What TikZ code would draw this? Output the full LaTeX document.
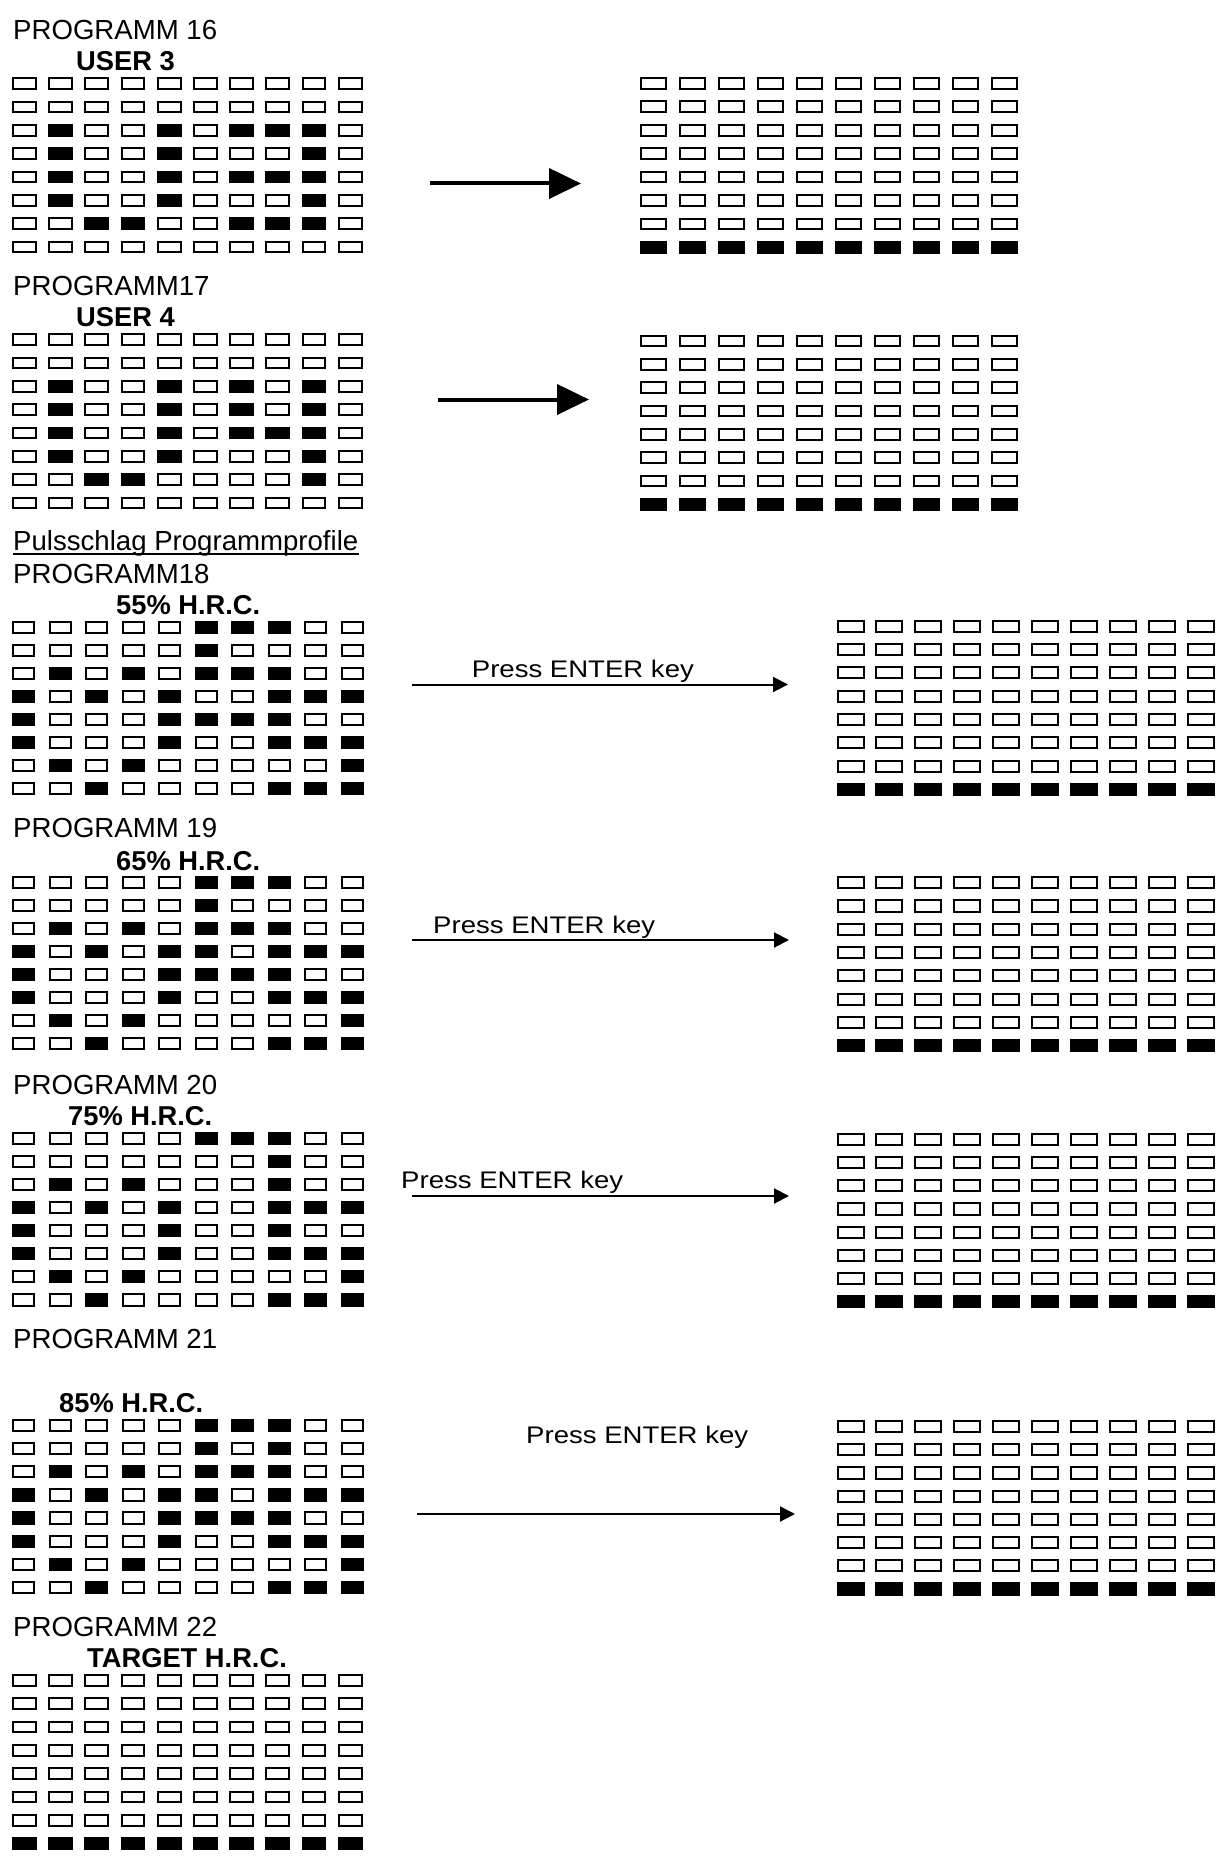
\documentclass[tikz,border=0pt]{standalone}
\usepackage{fontspec}
\setmainfont{Liberation Sans}
\usepackage{graphicx}
\usetikzlibrary{arrows.meta}
\newcommand{\ledgrid}[7]{%
  \foreach \rowlist [count=\r] in #7 {
    \foreach \v [count=\c] in \rowlist {
      \pgfmathsetmacro\xx{#1+(\c-1)*#3}
      \pgfmathsetmacro\yy{#2+(\r-1)*#4}
      \ifnum\v=1
        \fill[black] (\xx,\yy) rectangle ++(#5,#6);
      \else
        \draw[cellline] (\xx+1,\yy+1) rectangle ++(#5-2,#6-2);
      \fi
    }
  }%
}
\newcommand{\emptyrows}{{0,0,0,0,0,0,0,0,0,0},{0,0,0,0,0,0,0,0,0,0},{0,0,0,0,0,0,0,0,0,0},{0,0,0,0,0,0,0,0,0,0},{0,0,0,0,0,0,0,0,0,0},{0,0,0,0,0,0,0,0,0,0},{0,0,0,0,0,0,0,0,0,0},{1,1,1,1,1,1,1,1,1,1}}
\newcommand{\patA}{{0,0,0,0,0,0,0,0,0,0},{0,0,0,0,0,0,0,0,0,0},{0,1,0,0,1,0,1,1,1,0},{0,1,0,0,1,0,0,0,1,0},{0,1,0,0,1,0,1,1,1,0},{0,1,0,0,1,0,0,0,1,0},{0,0,1,1,0,0,1,1,1,0},{0,0,0,0,0,0,0,0,0,0}}
\newcommand{\patB}{{0,0,0,0,0,0,0,0,0,0},{0,0,0,0,0,0,0,0,0,0},{0,1,0,0,1,0,1,0,1,0},{0,1,0,0,1,0,1,0,1,0},{0,1,0,0,1,0,1,1,1,0},{0,1,0,0,1,0,0,0,1,0},{0,0,1,1,0,0,0,0,1,0},{0,0,0,0,0,0,0,0,0,0}}
\newcommand{\patC}{{0,0,0,0,0,1,1,1,0,0},{0,0,0,0,0,1,0,0,0,0},{0,1,0,1,0,1,1,1,0,0},{1,0,1,0,1,0,0,1,1,1},{1,0,0,0,1,1,1,1,0,0},{1,0,0,0,1,0,0,1,1,1},{0,1,0,1,0,0,0,0,0,1},{0,0,1,0,0,0,0,1,1,1}}
\newcommand{\patD}{{0,0,0,0,0,1,1,1,0,0},{0,0,0,0,0,1,0,0,0,0},{0,1,0,1,0,1,1,1,0,0},{1,0,1,0,1,1,0,1,1,1},{1,0,0,0,1,1,1,1,0,0},{1,0,0,0,1,0,0,1,1,1},{0,1,0,1,0,0,0,0,0,1},{0,0,1,0,0,0,0,1,1,1}}
\newcommand{\patE}{{0,0,0,0,0,1,1,1,0,0},{0,0,0,0,0,0,0,1,0,0},{0,1,0,1,0,0,0,1,0,0},{1,0,1,0,1,0,0,1,1,1},{1,0,0,0,1,0,0,1,0,0},{1,0,0,0,1,0,0,1,1,1},{0,1,0,1,0,0,0,0,0,1},{0,0,1,0,0,0,0,1,1,1}}
\newcommand{\patF}{{0,0,0,0,0,1,1,1,0,0},{0,0,0,0,0,1,0,1,0,0},{0,1,0,1,0,1,1,1,0,0},{1,0,1,0,1,1,0,1,1,1},{1,0,0,0,1,1,1,1,0,0},{1,0,0,0,1,0,0,1,1,1},{0,1,0,1,0,0,0,0,0,1},{0,0,1,0,0,0,0,1,1,1}}
\begin{document}
\begin{tikzpicture}[x=1pt,y=-1pt,
  cellline/.style={draw=black,line width=2pt},
  title/.style={anchor=base west,inner sep=0pt,font=\fontsize{27.6}{30}\selectfont},
  sub/.style={anchor=base west,inner sep=0pt,font=\fontsize{27.3}{30}\selectfont\bfseries},
  press/.style={anchor=base west,inner sep=0pt,font=\fontsize{24}{28}\selectfont},
  thickarrow/.style={line width=4pt,-{Triangle[length=32pt,width=30pt]}},
  thinarrow/.style={line width=2pt,-{Triangle[length=15pt,width=15pt]}}]
\useasboundingbox (0,0) rectangle (1229,1862);
\fill[white] (0,0) rectangle (1229,1862);

% texts
\node[title] (t16) at (13,40) {PROGRAMM 16};
\node[sub] (u3) at (76,71) {USER 3};
\node[title] (t17) at (13,295) {PROGRAMM17};
\node[sub] (u4) at (76,326.7) {USER 4};
\node[title] (puls) at (13,550) {Pulsschlag Programmprofile};
\draw[line width=2pt] ([yshift=-4pt]puls.base west) -- ([yshift=-4pt]puls.base east);
\node[title] (t18) at (13,583.3) {PROGRAMM18};
\node[sub] (h55) at (116,614) {55\% H.R.C.};
\node[title] (t19) at (13,837.3) {PROGRAMM 19};
\node[sub] (h65) at (116,870) {65\% H.R.C.};
\node[title] (t20) at (13,1094) {PROGRAMM 20};
\node[sub] (h75) at (68,1125) {75\% H.R.C.};
\node[title] (t21) at (13,1348.3) {PROGRAMM 21};
\node[sub] (h85) at (59,1412.7) {85\% H.R.C.};
\node[title] (t22) at (13,1636.7) {PROGRAMM 22};
\node[sub] (ht) at (87,1667.7) {TARGET H.R.C.};

% left grids
\ledgrid{12}{77.3}{36.2}{23.33}{24.7}{12.7}{\patA}
\ledgrid{12}{333.3}{36.2}{23.33}{24.7}{12.7}{\patB}
\ledgrid{12}{620.7}{36.5}{23.04}{23}{13.2}{\patC}
\ledgrid{12}{876}{36.5}{23.04}{23}{13.2}{\patD}
\ledgrid{12}{1131.7}{36.5}{23.09}{23}{13.2}{\patE}
\ledgrid{12}{1419}{36.5}{23.1}{23}{13.2}{\patF}
\ledgrid{12}{1674}{36.2}{23.33}{24.7}{12.7}{\emptyrows}

% right grids
\ledgrid{639.5}{77}{39}{23.45}{27}{12.7}{\emptyrows}
\ledgrid{639.5}{334.5}{39}{23.36}{27}{12.7}{\emptyrows}
\ledgrid{836.5}{619.5}{38.9}{23.35}{28}{13.2}{\emptyrows}
\ledgrid{836.5}{876}{38.9}{23.3}{28}{13.2}{\emptyrows}
\ledgrid{836.5}{1132.7}{38.9}{23.2}{28}{13.2}{\emptyrows}
\ledgrid{836.5}{1420}{38.9}{23.2}{28}{13.2}{\emptyrows}

% arrows
\coordinate (a1s) at (430,183.5);
\coordinate (a1e) at (581,183.5);
\draw[thickarrow] (a1s) -- (a1e);
\coordinate (a2s) at (438,399.5);
\coordinate (a2e) at (589,399.5);
\draw[thickarrow] (a2s) -- (a2e);

\node[press] (p18) at (471.7,677.7) {\scalebox{1.148}[1]{Press ENTER key}};
\coordinate (a3s) at (412,684.5);
\coordinate (a3e) at (788,684.5);
\draw[thinarrow] (a3s) -- (a3e);

\node[press] (p19) at (433,933.3) {\scalebox{1.148}[1]{Press ENTER key}};
\coordinate (a4s) at (412,940);
\coordinate (a4e) at (789,940);
\draw[thinarrow] (a4s) -- (a4e);

\node[press] (p20) at (401,1188.3) {\scalebox{1.148}[1]{Press ENTER key}};
\coordinate (a5s) at (412,1196);
\coordinate (a5e) at (789,1196);
\draw[thinarrow] (a5s) -- (a5e);

\node[press] (p21) at (526,1443.3) {\scalebox{1.148}[1]{Press ENTER key}};
\coordinate (a6s) at (417,1514);
\coordinate (a6e) at (795,1514);
\draw[thinarrow] (a6s) -- (a6e);
\end{tikzpicture}
\end{document}
